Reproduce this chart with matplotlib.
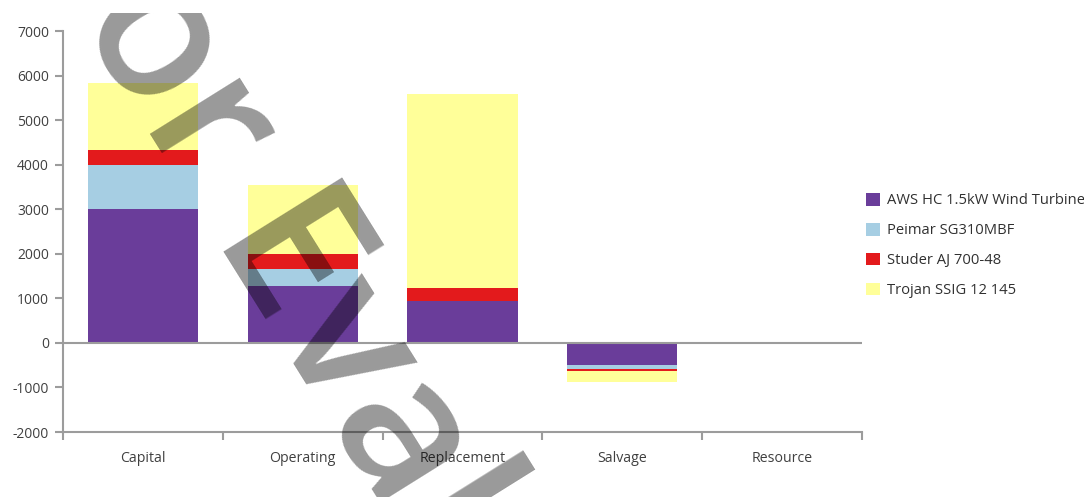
import math
import matplotlib
matplotlib.use("Agg")
import matplotlib.pyplot as plt
from matplotlib.patches import Patch, Rectangle
from matplotlib.transforms import IdentityTransform

# Cost breakdown by cost type and component
categories = ["Capital", "Operating", "Replacement", "Salvage", "Resource"]
series_names = ["AWS HC 1.5kW Wind Turbine", "Peimar SG310MBF",
                "Studer AJ 700-48", "Trojan SSIG 12 145"]
wind_turbine = [3015, 1280, 930, -505, 0]
pv_panels = [968, 375, 0, -72, 0]
converter = [342, 340, 305, -45, 0]
battery = [1513, 1540, 4352, -258, 0]
series_values = [wind_turbine, pv_panels, converter, battery]
colors = ["#6A3D9A", "#A6CEE3", "#E31A1C", "#FFFF99"]
yticks = [-2000, -1000, 0, 1000, 2000, 3000, 4000, 5000, 6000, 7000]

plt.rcParams["font.family"] = ["Open Sans", "DejaVu Sans"]

W, H = 1084, 497
fig = plt.figure(figsize=(W / 100, H / 100), dpi=100)
ax = fig.add_axes([63 / W, 1 - 432 / H, (862 - 63) / W, (432 - 31) / H])

x = list(range(len(categories)))
pos_base = [0.0] * len(categories)
neg_base = [0.0] * len(categories)
for vals, col in zip(series_values, colors):
    bottoms = []
    for i, v in enumerate(vals):
        if v >= 0:
            bottoms.append(pos_base[i])
            pos_base[i] += v
        else:
            bottoms.append(neg_base[i])
            neg_base[i] += v
    ax.bar(x, vals, bottom=bottoms, width=0.69, color=col,
           edgecolor="none", zorder=2)

axis_grey = "#9c9c9c"
text_grey = "#404040"
ax.set_xlim(-0.5, len(categories) - 0.5)
ax.set_ylim(-2000, 7000)
ax.set_yticks(yticks)
ax.set_yticklabels([str(v) for v in yticks])
ax.axhline(0, color=axis_grey, lw=1.5, zorder=3)

for side in ("top", "right"):
    ax.spines[side].set_visible(False)
for side in ("left", "bottom"):
    ax.spines[side].set_color(axis_grey)
    ax.spines[side].set_linewidth(1.5)
ax.spines["left"].set_bounds(-2000, 7000)

ax.set_xticks(x)
ax.set_xticklabels(categories)
ax.set_xticks([i - 0.5 for i in range(len(categories) + 1)], minor=True)
ax.tick_params(axis="x", which="major", length=0, pad=14,
               labelsize=10.2, labelcolor=text_grey)
ax.tick_params(axis="x", which="minor", length=6, width=1.5,
               color=axis_grey, direction="out")
ax.tick_params(axis="y", which="major", length=6, width=1.5, pad=4,
               color=axis_grey, labelsize=10, labelcolor=text_grey)

handles = [Patch(facecolor=c, edgecolor="none") for c in colors]
fig.legend(handles, series_names, loc="center left",
           bbox_to_anchor=(866 / W, 1 - 245.5 / H), frameon=False,
           fontsize=10.6, handlelength=0.95, handleheight=0.95,
           handletextpad=0.45, labelspacing=0.98, borderpad=0,
           borderaxespad=0, labelcolor="#303030")

# Diagonal watermark. Glyph positions along the baseline are measured
# at a trial size, then size and start are fitted so that the "o", the
# stem of the "E", the "v" and the "l" land at the wanted distances.
wm_text = "for Eval"
wm_angle = -58
wm_style = dict(family=["Open Sans"], fontweight="semibold")
renderer = fig.canvas.get_renderer()


def ink(s, size):
    t = fig.text(0, 0, s, fontsize=size, **wm_style)
    w = t.get_window_extent(renderer).width
    t.remove()
    return w


size0 = 148
em0 = size0 * 100 / 72
d = [
    ink("fo", size0) - ink("o", size0) / 2,
    ink("for E", size0) - ink("E", size0) + 0.06 * em0,
    ink("for Ev", size0) - ink("v", size0) / 2,
    ink("for Eval", size0) - ink("l", size0) / 2,
]
targets = [109, 334, 477, 665]
n = len(d)
md = sum(d) / n
mt = sum(targets) / n
k = (sum((a - md) * (b - mt) for a, b in zip(d, targets))
     / sum((a - md) ** 2 for a in d))
s0 = mt - k * md

ux, uy = math.cos(math.radians(-wm_angle)), math.sin(math.radians(-wm_angle))
nx, ny = uy, -ux
baseline_t = 55.6
px = s0 * ux + baseline_t * nx
py = s0 * uy + baseline_t * ny
wm = fig.text(px, H - py, wm_text, transform=IdentityTransform(),
              fontsize=size0 * k, color="black", alpha=0.4,
              rotation=wm_angle, rotation_mode="anchor",
              ha="left", va="baseline", zorder=10, **wm_style)
clip = Rectangle((0, 0), W, H - 13, transform=IdentityTransform())
wm.set_clip_path(clip)

fig.savefig("out.png", dpi=100)
